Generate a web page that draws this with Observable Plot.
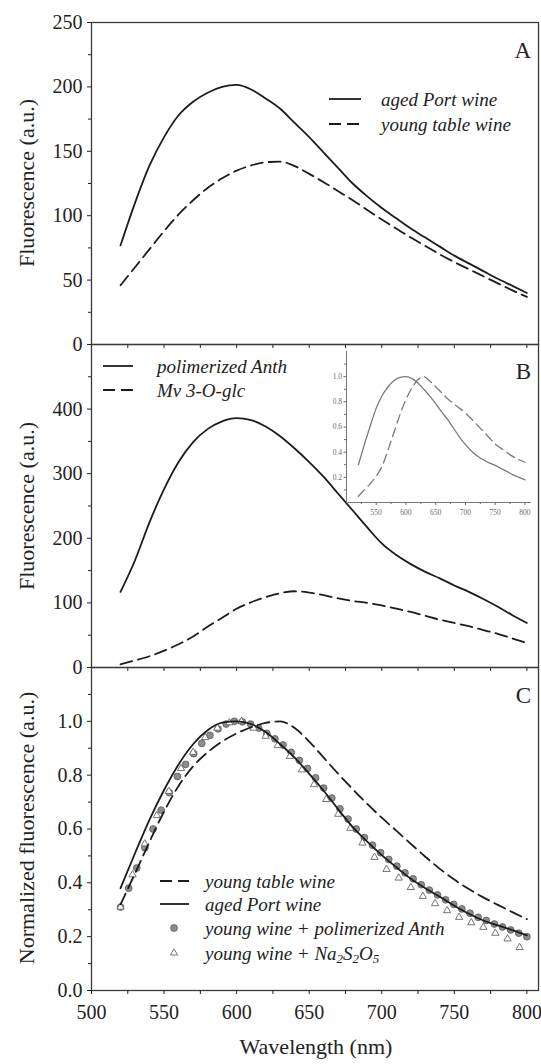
<!DOCTYPE html>
<html><head><meta charset="utf-8">
<script src="https://cdn.jsdelivr.net/npm/d3@7"></script>
<script src="https://cdn.jsdelivr.net/npm/@observablehq/plot@0.6"></script>
<style>
body{margin:0;background:#fff;}
#root{position:relative;width:541px;height:1064px;overflow:hidden;background:#fff;}
#root svg{position:absolute;left:0;overflow:visible;background:transparent;}
</style></head><body><div id="root"></div>
<script>
// ---------- data ----------
const wl = [520,530,540,550,560,570,580,590,600,610,620,630,640,650,660,670,680,690,700,710,720,730,740,750,760,770,780,790,800];
// Panel A
const aAged  = [77,110,139,161,178,188.5,195.5,200,201.5,198,191,183,172,161,149,137,125,115,106,98,90,83,76,69,63,57,51,45.5,40];
const aYoung = [46,60,74,88,101,112,121.5,129,135,139,141.5,142,138.5,132.5,126,119,112,104.5,97,90,83,76.5,70,64,58.5,53,47.5,42,37];
// Panel B
const bPoly = [117,166,225,276,318,349,369,381,386,383,373,358,339,318,295,269,243,217,192,174,160,148,138,127,117,106,94,81,69];
const bMv   = [5,11,17.5,26,36,48,63,77,91,101,109,115,118,116,112,107,103,100,96,91,86,80,74,69,64,58,52,45,38];
// Inset (normalized)
const insetPoly = [0.30,0.46,0.61,0.75,0.85,0.92,0.97,0.995,1.0,0.985,0.95,0.90,0.845,0.785,0.72,0.66,0.59,0.52,0.46,0.41,0.37,0.34,0.315,0.295,0.27,0.245,0.22,0.20,0.18];
const insetMv   = [0.05,0.10,0.15,0.21,0.29,0.42,0.56,0.70,0.82,0.91,0.975,1.0,0.965,0.92,0.872,0.825,0.785,0.75,0.71,0.665,0.615,0.565,0.515,0.465,0.43,0.395,0.365,0.34,0.32];
// Panel C
const cYoung = [0.32,0.435,0.553,0.665,0.76,0.833,0.885,0.925,0.955,0.978,0.994,1.0,0.975,0.925,0.865,0.805,0.748,0.693,0.642,0.594,0.545,0.497,0.452,0.412,0.377,0.346,0.318,0.291,0.265];
const cAged  = [0.38,0.51,0.635,0.745,0.84,0.915,0.967,0.995,1.0,0.99,0.96,0.915,0.865,0.805,0.742,0.673,0.607,0.553,0.503,0.458,0.415,0.38,0.348,0.315,0.285,0.26,0.242,0.224,0.205];
const circX = [520.0,525.6,531.2,536.8,542.4,548.0,553.6,559.2,564.8,570.4,576.0,581.6,587.2,592.8,598.4,604.0,609.6,615.2,620.8,626.4,632.0,637.6,643.2,648.8,654.4,660.0,665.6,671.2,676.8,682.4,688.0,693.6,699.2,704.8,710.4,716.0,721.6,727.2,732.8,738.4,744.0,749.6,755.2,760.8,766.4,772.0,777.6,783.2,788.8,794.4,800.0];
const circY = [0.31,0.38,0.455,0.53,0.60,0.67,0.735,0.795,0.84,0.88,0.918,0.948,0.972,0.99,1.0,0.998,0.99,0.975,0.955,0.935,0.912,0.885,0.855,0.825,0.79,0.752,0.715,0.675,0.637,0.60,0.568,0.54,0.512,0.487,0.462,0.437,0.415,0.393,0.373,0.355,0.337,0.32,0.303,0.287,0.272,0.26,0.247,0.236,0.225,0.213,0.2];
const triX = [520.0,528.3,536.7,545.0,553.3,561.7,570.0,578.3,586.7,595.0,603.3,611.7,620.0,628.3,636.7,645.0,653.3,661.7,670.0,678.3,686.7,695.0,703.3,711.7,720.0,728.3,736.7,745.0,753.3,761.7,770.0,778.3,786.7,795.0];
const triY = [0.31,0.43,0.545,0.65,0.74,0.825,0.885,0.94,0.975,0.995,1.0,0.975,0.945,0.91,0.87,0.82,0.765,0.71,0.655,0.603,0.548,0.495,0.45,0.418,0.383,0.35,0.323,0.297,0.272,0.252,0.235,0.213,0.192,0.16];
// ticks
const xTicks = [500,525,550,575,600,625,650,675,700,725,750,775,800];
const xLabelTicks = [500,550,600,650,700,750,800];
const yMajorA = [0,50,100,150,200,250], yMinorA = [25,75,125,175,225];
const yMajorB = [0,100,200,300,400], yMinorB = [50,150,250,350,450];
const yMajorC = [0,0.2,0.4,0.6,0.8,1.0], yMinorC = [0.1,0.3,0.5,0.7,0.9,1.1];
const insetYTicks = [0.2,0.4,0.6,0.8,1.0], insetYMinor = [0.1,0.3,0.5,0.7,0.9,1.1];
const insetXTicks = [550,600,650,700,750,800], insetXMinor = [525,575,625,675,725,775];
// legend labels
const legA = ["aged Port wine","young table wine"];
const legB = ["polimerized Anth","Mv 3-O-glc"];
const legC = ["young table wine","aged Port wine","young wine + polimerized Anth"];

// ---------- drawing ----------
const serif = '"Liberation Serif","Times New Roman",serif';
const root = document.getElementById("root");
const W = 541;
const xDomain = [500, 808];
const INK = "#1c1c1c";
const toRows = (xs, ys) => xs.map((x, i) => ({x, y: ys[i]}));

function panel({top, height, marginTop, marginBottom, yDomain, yMajor, yMinor, yFmt, labels, marks}) {
  const svg = Plot.plot({
    width: W, height, marginLeft: 91, marginRight: 3, marginTop, marginBottom,
    style: {background: "transparent", overflow: "visible", fontFamily: serif, color: "#222"},
    x: {domain: xDomain},
    y: {domain: yDomain},
    marks: [
      Plot.frame({stroke: "#3a3a3a", strokeWidth: 1.3}),
      Plot.axisY({ticks: yMajor, tickSize: 4, tickPadding: 5, tickFormat: yFmt, label: null, fontSize: 20}),
      Plot.axisY({ticks: yMinor, tickSize: 3, tickFormat: () => "", label: null}),
      Plot.axisX({ticks: xTicks, tickSize: 4, tickPadding: 10, label: null, fontSize: 20,
        tickFormat: d => (labels && xLabelTicks.includes(d)) ? String(d) : ""}),
      ...marks
    ]
  });
  svg.style.top = top + "px";
  root.appendChild(svg);
}

const solid = {x: "x", y: "y", stroke: INK, strokeWidth: 1.8, curve: "monotone-x"};
const dashed = {...solid, strokeDasharray: "12,6"};

panel({top: 0, height: 344, marginTop: 22, marginBottom: 0, yDomain: [0, 250],
  yMajor: yMajorA, yMinor: yMinorA, yFmt: d3.format("d"), labels: false,
  marks: [Plot.line(toRows(wl, aYoung), dashed), Plot.line(toRows(wl, aAged), solid)]});

panel({top: 344, height: 323, marginTop: 0, marginBottom: 0, yDomain: [0, 500],
  yMajor: yMajorB, yMinor: yMinorB, yFmt: d3.format("d"), labels: false,
  marks: [Plot.line(toRows(wl, bMv), dashed), Plot.line(toRows(wl, bPoly), solid)]});

panel({top: 667, height: 397, marginTop: 0, marginBottom: 74, yDomain: [0, 1.2],
  yMajor: yMajorC, yMinor: yMinorC, yFmt: d3.format(".1f"), labels: true,
  marks: [
    Plot.dot(toRows(circX, circY), {x: "x", y: "y", r: 3.4, fill: "#8c8c8c", stroke: "#5a5a5a", strokeWidth: 0.8}),
    Plot.dot(toRows(triX, triY), {x: "x", y: "y", symbol: "triangle", r: 2.7, fill: "white", stroke: "#666", strokeWidth: 0.9}),
    Plot.line(toRows(wl, cYoung), dashed),
    Plot.line(toRows(wl, cAged), solid)
  ]});

// inset
const GREY = "#7a7a7a";
const inset = Plot.plot({
  width: 241, height: 190, marginLeft: 46, marginRight: 10, marginTop: 11, marginBottom: 28,
  style: {background: "transparent", overflow: "visible", fontFamily: serif, color: "#6a6a6a"},
  x: {domain: [500, 811]},
  y: {domain: [0, 1.2]},
  marks: [
    Plot.ruleX([500], {stroke: GREY, strokeWidth: 1.1}),
    Plot.ruleY([0], {stroke: GREY, strokeWidth: 1.1}),
    Plot.axisY({ticks: insetYTicks, tickSize: 2.5, tickPadding: 2, tickFormat: d3.format(".1f"), label: null, fontSize: 7.5}),
    Plot.axisY({ticks: insetYMinor, tickSize: 2, tickFormat: () => "", label: null}),
    Plot.axisX({ticks: insetXTicks, tickSize: 3, tickPadding: 4, tickFormat: d3.format("d"), label: null, fontSize: 7.5}),
    Plot.axisX({ticks: insetXMinor, tickSize: 2, tickFormat: () => "", label: null}),
    Plot.line(toRows(wl, insetMv), {x: "x", y: "y", stroke: GREY, strokeWidth: 1.3, strokeDasharray: "9,5", curve: "monotone-x"}),
    Plot.line(toRows(wl, insetPoly), {x: "x", y: "y", stroke: GREY, strokeWidth: 1.3, curve: "monotone-x"})
  ]
});
inset.style.left = "300px";
inset.style.top = "340px";
root.appendChild(inset);

// overlay: titles, panel letters, legends
const ov = d3.select(root).append("svg")
  .attr("width", W).attr("height", 1064).style("top", "0px")
  .attr("font-family", serif).attr("fill", "#222");

function ytitle(text, cy) {
  ov.append("text").attr("transform", `translate(26,${cy}) rotate(-90)`)
    .attr("text-anchor", "middle").attr("dominant-baseline", "central")
    .attr("font-size", 22).text(text);
}
ytitle("Fluorescence (a.u.)", 183);
ytitle("Fluorescence (a.u.)", 506);
ytitle("Normalized fluorescence (a.u.)", 828);
ov.append("text").attr("x", 316).attr("y", 1046).attr("text-anchor", "middle")
  .attr("dominant-baseline", "central").attr("font-size", 22).text("Wavelength (nm)");

[["A", 50], ["B", 371], ["C", 695]].forEach(([t, y]) => {
  ov.append("text").attr("x", 531).attr("y", y).attr("text-anchor", "end")
    .attr("dominant-baseline", "central").attr("font-size", 23).text(t);
});

function legLine(x1, x2, y, dash) {
  const l = ov.append("line").attr("x1", x1).attr("x2", x2).attr("y1", y).attr("y2", y)
    .attr("stroke", INK).attr("stroke-width", 1.8);
  if (dash) l.attr("stroke-dasharray", "12,6");
}
function legText(x, y, t) {
  return ov.append("text").attr("x", x).attr("y", y).attr("dominant-baseline", "central")
    .attr("font-size", 19).attr("font-style", "italic").text(t);
}
// A
legLine(329, 361, 99, false); legText(381, 99, legA[0]);
legLine(329, 361, 124, true); legText(381, 124, legA[1]);
// B
legLine(103, 133, 366, false); legText(157, 366, legB[0]);
legLine(103, 133, 390, true); legText(157, 390, legB[1]);
// C
legLine(160, 189, 881, true); legText(205, 881, legC[0]);
legLine(160, 189, 904, false); legText(205, 904, legC[1]);
ov.append("circle").attr("cx", 174).attr("cy", 928).attr("r", 3.4)
  .attr("fill", "#8c8c8c").attr("stroke", "#5a5a5a").attr("stroke-width", 0.8);
legText(205, 928, legC[2]);
ov.append("path").attr("d", d3.symbol(d3.symbolTriangle, 22)()).attr("transform", "translate(174,953)")
  .attr("fill", "white").attr("stroke", "#666").attr("stroke-width", 0.9);
const t4 = ov.append("text").attr("x", 205).attr("y", 953).attr("dominant-baseline", "central")
  .attr("font-size", 19).attr("font-style", "italic");
t4.append("tspan").text("young wine + Na");
t4.append("tspan").attr("font-size", 13).attr("dy", 5).text("2");
t4.append("tspan").attr("dy", -5).text("S");
t4.append("tspan").attr("font-size", 13).attr("dy", 5).text("2");
t4.append("tspan").attr("dy", -5).text("O");
t4.append("tspan").attr("font-size", 13).attr("dy", 5).text("5");
</script></body></html>
